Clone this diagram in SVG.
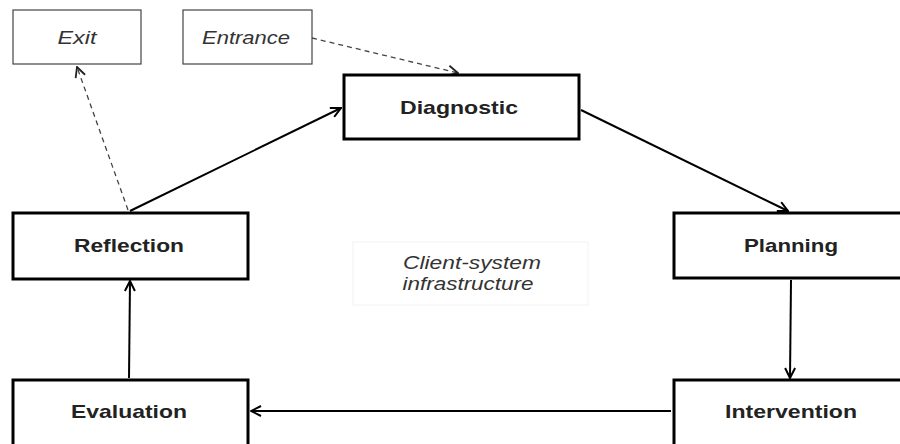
<svg xmlns="http://www.w3.org/2000/svg" width="900" height="444" viewBox="0 0 900 444">
<style>
.main{fill:#fff;stroke:#000;stroke-width:3}
.side{fill:#fff;stroke:#444;stroke-width:1.2}
.bt{font-family:"Liberation Sans",Arial,sans-serif;font-weight:bold;font-size:19px;fill:#222;text-anchor:middle;dominant-baseline:central}
.it{font-family:"Liberation Sans",Arial,sans-serif;font-style:italic;font-size:19px;fill:#333;text-anchor:middle;dominant-baseline:central}
.c{fill:none;stroke:#000;stroke-width:2}
.d{fill:none;stroke:#444;stroke-width:1.3;stroke-dasharray:5,4}
</style>
<defs>
<marker id="a" viewBox="0 0 12 12" refX="11" refY="6" markerWidth="12" markerHeight="12" markerUnits="userSpaceOnUse" orient="auto">
<path d="M1,1 L11,6 L1,11" fill="none" stroke="#000" stroke-width="2"/>
</marker>
<marker id="ad" viewBox="0 0 12 12" refX="11" refY="6" markerWidth="12" markerHeight="12" markerUnits="userSpaceOnUse" orient="auto">
<path d="M1,1 L11,6 L1,11" fill="none" stroke="#222" stroke-width="1.8"/>
</marker>
</defs>
<rect width="900" height="444" fill="#fff"/>
<rect x="353" y="242" width="235" height="63" fill="none" stroke="#f2f2f2" stroke-width="1"/>
<text class="it" x="472" y="262" textLength="138" lengthAdjust="spacingAndGlyphs">Client-system</text>
<text class="it" x="468" y="283" textLength="131" lengthAdjust="spacingAndGlyphs">infrastructure</text>
<g id="connectors">
<line class="c" x1="130" y1="211" x2="341" y2="108" marker-end="url(#a)"/>
<line class="c" x1="581" y1="110" x2="788" y2="211" marker-end="url(#a)"/>
<line class="c" x1="791" y1="280" x2="790" y2="378" marker-end="url(#a)"/>
<line class="c" x1="671" y1="411" x2="251" y2="411" marker-end="url(#a)"/>
<line class="c" x1="129" y1="378" x2="130" y2="281" marker-end="url(#a)"/>
<line class="d" x1="128" y1="210" x2="77" y2="67" marker-end="url(#ad)"/>
<line class="d" x1="312" y1="38" x2="458" y2="73" marker-end="url(#ad)"/>
</g>
<g id="exit"><rect class="side" x="13" y="10" width="128" height="54"/><text class="it" x="77" y="37" textLength="39" lengthAdjust="spacingAndGlyphs">Exit</text></g>
<g id="entrance"><rect class="side" x="183" y="10" width="129" height="54"/><text class="it" x="246" y="37" textLength="88" lengthAdjust="spacingAndGlyphs">Entrance</text></g>
<g id="diagnostic"><rect class="main" x="344" y="75" width="235" height="64"/><text class="bt" x="459" y="107" textLength="118" lengthAdjust="spacingAndGlyphs">Diagnostic</text></g>
<g id="planning"><rect class="main" x="674" y="213" width="240" height="65"/><text class="bt" x="791" y="245" textLength="94" lengthAdjust="spacingAndGlyphs">Planning</text></g>
<g id="intervention"><rect class="main" x="674" y="380" width="240" height="70"/><text class="bt" x="791" y="411" textLength="132" lengthAdjust="spacingAndGlyphs">Intervention</text></g>
<g id="evaluation"><rect class="main" x="13" y="380" width="235" height="70"/><text class="bt" x="129" y="411" textLength="116" lengthAdjust="spacingAndGlyphs">Evaluation</text></g>
<g id="reflection"><rect class="main" x="13" y="213" width="235" height="66"/><text class="bt" x="129" y="245" textLength="110" lengthAdjust="spacingAndGlyphs">Reflection</text></g>
</svg>
